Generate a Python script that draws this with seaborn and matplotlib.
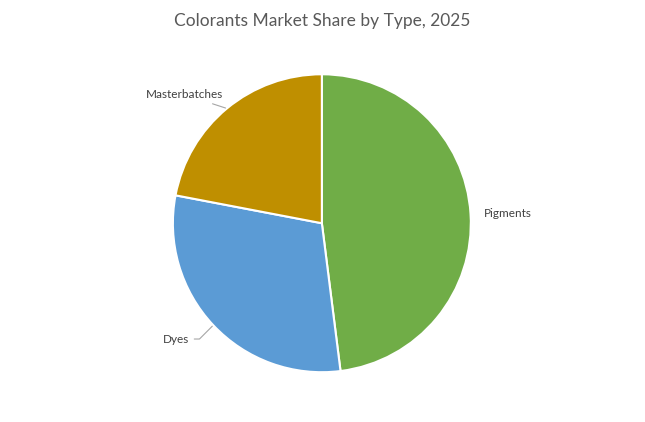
import numpy as np
import matplotlib
matplotlib.use("Agg")
import matplotlib.pyplot as plt
import seaborn as sns

# Data
types = ["Pigments", "Dyes", "Masterbatches"]
shares = [48, 30, 22]
colors = ["#70AD47", "#5B9BD5", "#BF8F00"]

sns.set_theme(style="white")
plt.rcParams['font.family'] = ['Lato', 'DejaVu Sans']

fig = plt.figure(figsize=(6.45, 4.22), dpi=100)
fig.patch.set_facecolor("white")
ax = fig.add_axes([0.268, 0.118, 0.462, 0.706])

wedges, _ = ax.pie(shares, colors=colors, startangle=90, counterclock=False,
                   radius=1.0, wedgeprops=dict(edgecolor="white", linewidth=1.5))
ax.set_xlim(-1, 1)
ax.set_ylim(-1, 1)
ax.set_aspect("equal")
ax.axis("off")

# label placement: (distance factor, angle shift in degrees, leader connection)
label_opts = {
    "Pigments": (1.09, 0, None),
    "Dyes": (1.18, -2, "angle,angleA=0,angleB=45,rad=0"),
    "Masterbatches": (1.09, -2, "arc3"),
}
for w, name in zip(wedges, types):
    mid_deg = (w.theta1 + w.theta2) / 2
    dist, shift, conn = label_opts[name]
    mid = np.deg2rad(mid_deg)
    tpos = np.deg2rad(mid_deg + shift)
    x, y = np.cos(mid), np.sin(mid)
    tx, ty = np.cos(tpos) * dist, np.sin(tpos) * dist
    ha = "left" if x > 0 else "right"
    if conn:
        ax.annotate(name, xy=(x * 1.0, y * 1.0), xytext=(tx, ty),
                    ha=ha, va="center", fontsize=8.5, color="#404040",
                    annotation_clip=False,
                    arrowprops=dict(arrowstyle="-", color="#A6A6A6", lw=0.8,
                                    shrinkA=1, shrinkB=1, connectionstyle=conn))
    else:
        ax.text(tx, ty, name, ha=ha, va="center", fontsize=8.5,
                color="#404040", clip_on=False)

fig.text(0.499, 0.95, "Colorants Market Share by Type, 2025", ha="center",
         va="center", fontsize=12.5, color="#595959")

fig.savefig("out.png", dpi=100, facecolor="white")
